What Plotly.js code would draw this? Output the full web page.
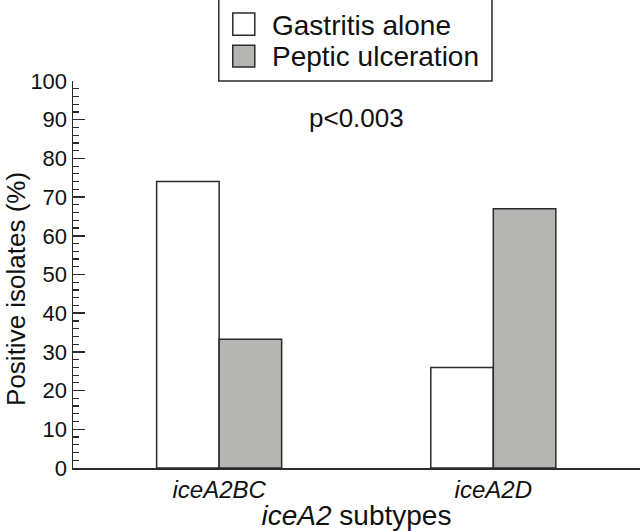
<!DOCTYPE html>
<html>
<head>
<meta charset="utf-8">
<script src="https://cdn.plot.ly/plotly-3.0.1.min.js"></script>
<style>
  html, body { margin: 0; padding: 0; background: #ffffff; }
  #chart { width: 640px; height: 531px; }
</style>
</head>
<body>
<div id="chart"></div>
<script>
// ---- data ----
const categories = ["iceA2BC", "iceA2D"];
const seriesNames = ["Gastritis alone", "Peptic ulceration"];
const gastritisAlone = [74, 26];
const pepticUlceration = [33.3, 67];
const yTickValues = [0, 10, 20, 30, 40, 50, 60, 70, 80, 90, 100];
const pValueText = "p&lt;0.003";
const yTitleText = "Positive isolates (%)";
const xTitleText = "<i>iceA2</i> subtypes";

// ---- styles ----
const FONT = "Liberation Sans, Arial, Helvetica, sans-serif";
const INK = "#2b2b2b";
const TEXT = "#111111";
const fills = ["#ffffff", "#b5b6b4"];

const traces = [
  {
    type: "bar", name: seriesNames[0], x: categories, y: gastritisAlone,
    marker: { color: fills[0], line: { color: INK, width: 1.5 } },
    showlegend: false, hoverinfo: "skip"
  },
  {
    type: "bar", name: seriesNames[1], x: categories, y: pepticUlceration,
    marker: { color: fills[1], line: { color: INK, width: 1.5 } },
    showlegend: false, hoverinfo: "skip"
  }
];

// legend drawn in paper coordinates
const legendBox = { x0: 0.2571, x1: 0.7389, y0: 1.0, y1: 1.225 };
const swatchX = [0.2818, 0.3206];
const swatchY = [[1.1181, 1.1757], [1.0362, 1.0922]];
const legendTextX = 0.3471;
const legendTextY = [1.143, 1.064];

const shapes = [
  { type: "rect", xref: "paper", yref: "paper", x0: legendBox.x0, x1: legendBox.x1,
    y0: legendBox.y0, y1: legendBox.y1, line: { color: INK, width: 1.5 }, fillcolor: "#ffffff", layer: "above" }
];
const annotations = [
  { xref: "paper", yref: "paper", x: 0.5006, y: 0.9036, text: pValueText, showarrow: false,
    xanchor: "center", yanchor: "middle", font: { family: FONT, size: 26, color: TEXT } },
  { xref: "paper", yref: "paper", x: -0.101, y: 0.462, text: yTitleText, showarrow: false,
    textangle: -90, xanchor: "center", yanchor: "middle", font: { family: FONT, size: 26, color: TEXT } }
];
seriesNames.forEach((nm, i) => {
  shapes.push({ type: "rect", xref: "paper", yref: "paper", x0: swatchX[0], x1: swatchX[1],
    y0: swatchY[i][0], y1: swatchY[i][1], line: { color: INK, width: 1.5 }, fillcolor: fills[i], layer: "above" });
  annotations.push({ xref: "paper", yref: "paper", x: legendTextX, y: legendTextY[i], text: nm,
    showarrow: false, xanchor: "left", yanchor: "middle", font: { family: FONT, size: 28, color: TEXT } });
});

const layout = {
  width: 640, height: 531,
  paper_bgcolor: "#ffffff", plot_bgcolor: "#ffffff",
  margin: { l: 73, r: 0, t: 81, b: 63, pad: 0 },
  font: { family: FONT, color: TEXT },
  barmode: "group", bargap: 0.544, bargroupgap: 0,
  xaxis: {
    type: "category", range: [-0.533, 1.535],
    showline: true, linecolor: INK, linewidth: 1.5,
    ticks: "", showgrid: false, zeroline: false,
    tickmode: "array", tickvals: categories,
    ticktext: categories.map(c => "<i>" + c + "</i>"),
    tickfont: { family: FONT, size: 24, color: TEXT },
    title: { text: xTitleText, font: { family: FONT, size: 28, color: TEXT }, standoff: 2 },
    fixedrange: true
  },
  yaxis: {
    range: [0, 100], tickmode: "array", tickvals: yTickValues,
    showline: true, linecolor: INK, linewidth: 1.5,
    ticks: "inside", ticklen: 12, tickwidth: 1.5, tickcolor: INK,
    minor: { dtick: 2, ticks: "inside", ticklen: 6, tickwidth: 1.2, tickcolor: INK, showgrid: false },
    showgrid: false, zeroline: false,
    tickfont: { family: FONT, size: 22, color: TEXT },
    fixedrange: true
  },
  shapes: shapes,
  annotations: annotations,
  showlegend: false
};

Plotly.newPlot("chart", traces, layout, { displayModeBar: false, staticPlot: true });
</script>
</body>
</html>
